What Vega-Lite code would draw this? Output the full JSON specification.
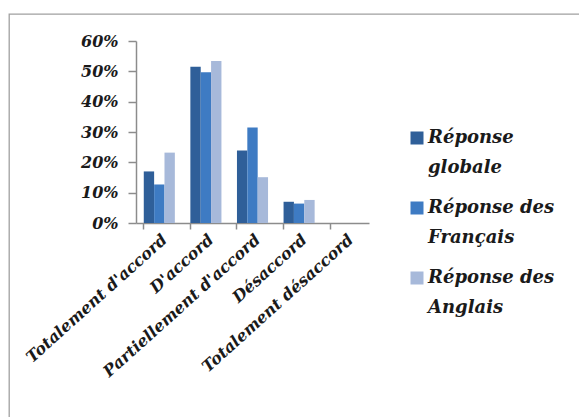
{
  "$schema": "https://vega.github.io/schema/vega-lite/v6.json",
  "autosize": "none",
  "width": 572,
  "height": 405,
  "padding": {"left": 9, "top": 14, "right": 0, "bottom": 0},
  "background": "white",
  "view": {"stroke": "#a0a0a0", "strokeWidth": 1.3, "fill": "white"},
  "config": {
    "font": "DejaVu Serif",
    "style": {"guide-label": {"lineHeight": 30}}
  },
  "data": {
    "values": [
      {"cat": "Totalement d'accord", "serie": "Réponse globale", "v": 0.17},
      {"cat": "Totalement d'accord", "serie": "Réponse des Français", "v": 0.127},
      {"cat": "Totalement d'accord", "serie": "Réponse des Anglais", "v": 0.232},
      {"cat": "D'accord", "serie": "Réponse globale", "v": 0.515},
      {"cat": "D'accord", "serie": "Réponse des Français", "v": 0.497},
      {"cat": "D'accord", "serie": "Réponse des Anglais", "v": 0.534},
      {"cat": "Partiellement d'accord", "serie": "Réponse globale", "v": 0.239},
      {"cat": "Partiellement d'accord", "serie": "Réponse des Français", "v": 0.315},
      {"cat": "Partiellement d'accord", "serie": "Réponse des Anglais", "v": 0.151},
      {"cat": "Désaccord", "serie": "Réponse globale", "v": 0.07},
      {"cat": "Désaccord", "serie": "Réponse des Français", "v": 0.064},
      {"cat": "Désaccord", "serie": "Réponse des Anglais", "v": 0.076},
      {"cat": "Totalement désaccord", "serie": "Réponse globale", "v": 0},
      {"cat": "Totalement désaccord", "serie": "Réponse des Français", "v": 0},
      {"cat": "Totalement désaccord", "serie": "Réponse des Anglais", "v": 0}
    ]
  },
  "mark": {"type": "bar"},
  "encoding": {
    "x": {
      "field": "cat",
      "type": "nominal",
      "sort": null,
      "scale": {"range": [127, 360], "paddingInner": 0.333, "paddingOuter": 0.1667},
      "axis": {
        "title": null,
        "offset": -196,
        "bandPosition": 0,
        "domainColor": "#8c8c8c",
        "domainWidth": 1.5,
        "tickColor": "#8c8c8c",
        "tickWidth": 1.5,
        "tickSize": 6,
        "labelAngle": -42,
        "labelFont": "DejaVu Serif",
        "labelFontStyle": "italic",
        "labelFontWeight": "bold",
        "labelFontSize": 16,
        "labelColor": "#1a1a1a",
        "labelPadding": 2,
        "labelOverlap": false,
        "labelLimit": 300,
        "labelBound": false
      }
    },
    "xOffset": {"field": "serie", "type": "nominal", "sort": ["Réponse globale", "Réponse des Français", "Réponse des Anglais"]},
    "y": {
      "field": "v",
      "type": "quantitative",
      "scale": {"domain": [0, 0.6], "nice": false, "range": [209, 27]},
      "axis": {
        "title": null,
        "offset": -127,
        "format": ".0%",
        "values": [0, 0.1, 0.2, 0.3, 0.4, 0.5, 0.6],
        "grid": false,
        "domainColor": "#8c8c8c",
        "domainWidth": 1.5,
        "tickColor": "#8c8c8c",
        "tickWidth": 1.5,
        "tickSize": 8,
        "labelFont": "DejaVu Serif",
        "labelFontStyle": "italic",
        "labelFontWeight": "bold",
        "labelFontSize": 16,
        "labelColor": "#1a1a1a",
        "labelPadding": 10
      }
    },
    "color": {
      "field": "serie",
      "type": "nominal",
      "sort": ["Réponse globale", "Réponse des Français", "Réponse des Anglais"],
      "scale": {"range": ["#2f5f99", "#3e7bc3", "#a7b9da"]},
      "legend": {
        "title": null,
        "orient": "none",
        "legendX": 399,
        "legendY": 115,
        "symbolType": "square",
        "symbolSize": 169,
        "symbolStrokeWidth": 0,
        "labelFont": "DejaVu Serif",
        "labelFontStyle": "italic",
        "labelFontWeight": "bold",
        "labelFontSize": 18,
        "labelColor": "#1a1a1a",
        "labelOffset": 2,
        "labelLimit": 300,
        "rowPadding": 22,
        "labelExpr": "[slice(datum.label, 0, lastindexof(datum.label, ' ')), slice(datum.label, lastindexof(datum.label, ' ') + 1)]"
      }
    }
  }
}
